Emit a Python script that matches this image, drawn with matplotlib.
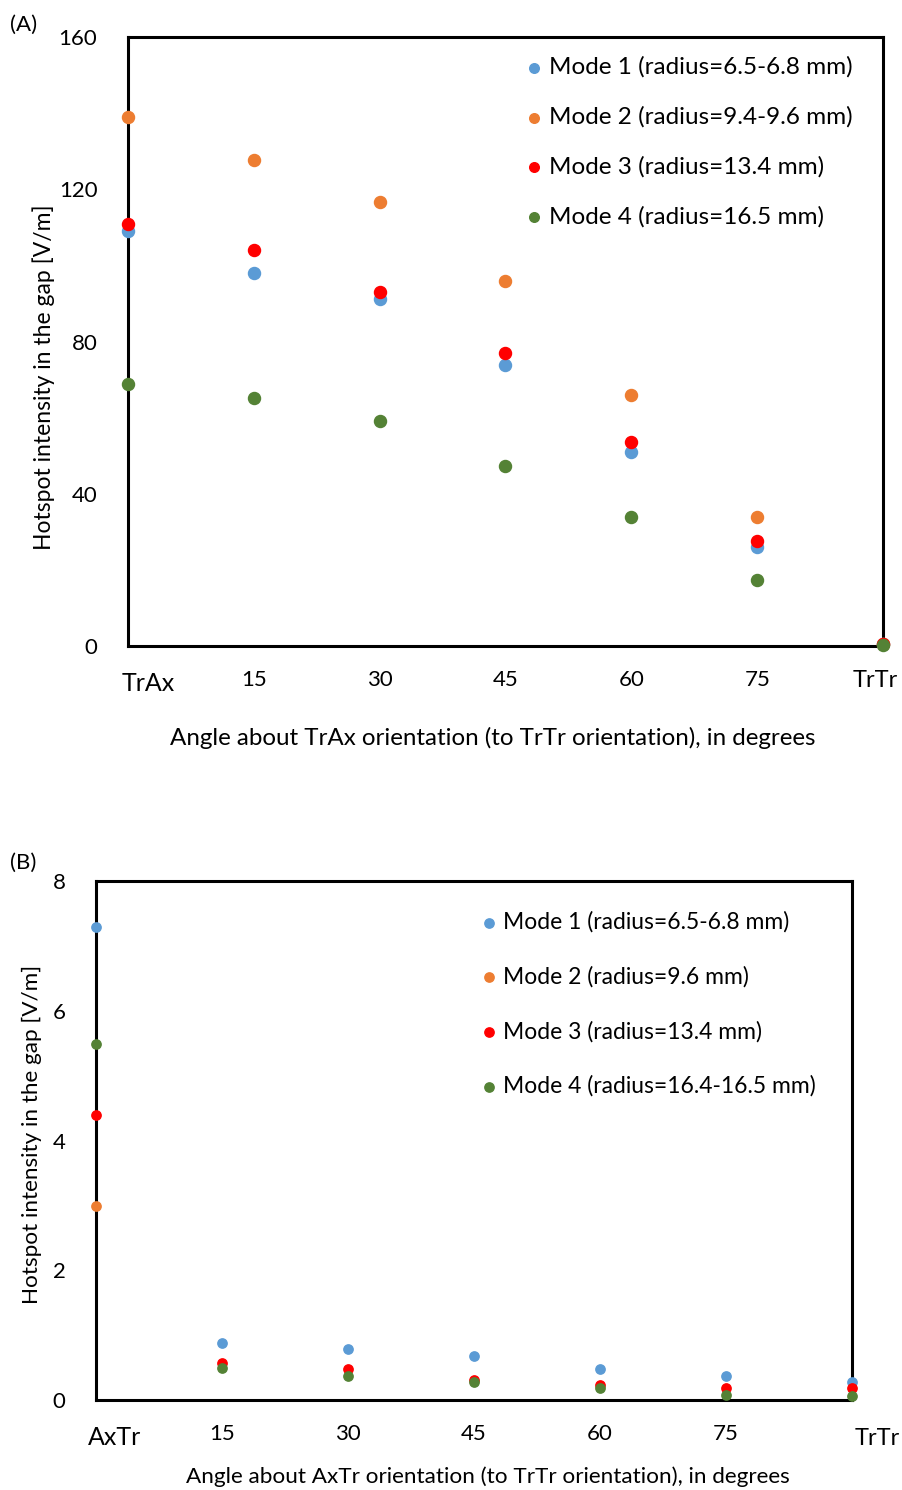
import matplotlib.pyplot as plt
import matplotlib.transforms as mtransforms

plt.rcParams['font.family'] = ['Lato', 'DejaVu Sans']

# ---- panel A data
angles_a = [0, 15, 30, 45, 60, 75, 90]
mode1_a = [109, 98, 91.2, 73.8, 51, 26, 0.5]
mode2_a = [139, 127.7, 116.7, 95.9, 66, 33.9, 0.5]
mode3_a = [110.9, 104, 93, 77, 53.6, 27.6, 0.5]
mode4_a = [68.8, 65.2, 59.1, 47.3, 33.9, 17.3, 0.3]
labels_a = ['Mode 1 (radius=6.5-6.8 mm)', 'Mode 2 (radius=9.4-9.6 mm)',
            'Mode 3 (radius=13.4 mm)', 'Mode 4 (radius=16.5 mm)']
xticks_a = ['TrAx', '15', '30', '45', '60', '75', 'TrTr']

# ---- panel B data
angles_b = [0, 15, 30, 45, 60, 75, 90]
mode1_b = [7.29, 0.88, 0.79, 0.68, 0.48, 0.37, 0.28]
angles_b2 = [0]
mode2_b = [2.99]
mode3_b = [4.39, 0.57, 0.48, 0.31, 0.23, 0.18, 0.18]
mode4_b = [5.49, 0.49, 0.37, 0.28, 0.18, 0.08, 0.06]
labels_b = ['Mode 1 (radius=6.5-6.8 mm)', 'Mode 2 (radius=9.6 mm)',
            'Mode 3 (radius=13.4 mm)', 'Mode 4 (radius=16.4-16.5 mm)']
xticks_b = ['AxTr', '15', '30', '45', '60', '75', 'TrTr']

colors = ['#5b9bd5', '#ed7d31', '#ff0000', '#548235']

fig = plt.figure(figsize=(9.03, 14.90), dpi=100)


def style_axes(ax, ylim, yticks, xticklabels, xlabel, first_dx, last_dx, last_dy,
               xlab_pos, ylab_pos, xlab_size, ylab_size):
    ax.set_xlim(0, 90)
    ax.set_ylim(*ylim)
    ax.set_yticks(yticks)
    ax.set_xticks([0, 15, 30, 45, 60, 75, 90])
    ax.set_xticklabels(xticklabels)
    for s in ax.spines.values():
        s.set_linewidth(2.2)
        s.set_color('black')
    ax.tick_params(length=0, labelsize=16)
    ax.tick_params(axis='x', pad=17)
    ax.tick_params(axis='y', pad=22)
    labs = ax.get_xticklabels()
    labs[0].set_fontsize(18)
    labs[0].set_transform(labs[0].get_transform() +
                          mtransforms.ScaledTranslation(first_dx / 100, -2 / 100, fig.dpi_scale_trans))
    labs[-1].set_fontsize(17)
    labs[-1].set_transform(labs[-1].get_transform() +
                           mtransforms.ScaledTranslation(last_dx / 100, last_dy / 100, fig.dpi_scale_trans))
    ax.set_xlabel(xlabel, fontsize=xlab_size)
    ax.set_ylabel('Hotspot intensity in the gap [V/m]', fontsize=ylab_size)
    ax.xaxis.set_label_coords(*xlab_pos)
    ax.yaxis.set_label_coords(*ylab_pos)


# panel A
ax1 = fig.add_axes([0.1417, 0.5664, 0.8362, 0.4088])
ax1.scatter(angles_a, mode1_a, s=75, color=colors[0], label=labels_a[0], clip_on=False, zorder=3)
ax1.scatter(angles_a, mode2_a, s=75, color=colors[1], label=labels_a[1], clip_on=False, zorder=3)
ax1.scatter(angles_a, mode3_a, s=75, color=colors[2], label=labels_a[2], clip_on=False, zorder=3)
ax1.scatter(angles_a, mode4_a, s=75, color=colors[3], label=labels_a[3], clip_on=False, zorder=3)
style_axes(ax1, (0, 160), [0, 40, 80, 120, 160], xticks_a,
           'Angle about TrAx orientation (to TrTr orientation), in degrees', 20, -8, 0,
           (0.483, -0.133), (-0.097, 0.442), 17.4, 16.5)
ax1.legend(loc='upper left', bbox_to_anchor=(0.522, 0.968), frameon=False, fontsize=17.5,
           markerscale=0.8, handlelength=1.0, handletextpad=0.1, labelspacing=1.17,
           borderaxespad=0, borderpad=0)
fig.text(0.011, 0.983, '(A)', fontsize=16, va='center')

# panel B
ax2 = fig.add_axes([0.1063, 0.0604, 0.8372, 0.3483])
ax2.scatter(angles_b, mode1_b, s=45, color=colors[0], label=labels_b[0], clip_on=False, zorder=3)
ax2.scatter(angles_b2, mode2_b, s=45, color=colors[1], label=labels_b[1], clip_on=False, zorder=3)
ax2.scatter(angles_b, mode3_b, s=45, color=colors[2], label=labels_b[2], clip_on=False, zorder=3)
ax2.scatter(angles_b, mode4_b, s=45, color=colors[3], label=labels_b[3], clip_on=False, zorder=3)
style_axes(ax2, (0, 8), [0, 2, 4, 6, 8], xticks_b,
           'Angle about AxTr orientation (to TrTr orientation), in degrees', 19, 25, -4,
           (0.519, -0.127), (-0.071, 0.511), 16.2, 16.2)
ax2.legend(loc='upper left', bbox_to_anchor=(0.505, 0.942), frameon=False, fontsize=16.5,
           markerscale=1.0, handlelength=1.0, handletextpad=0.1, labelspacing=1.45,
           borderaxespad=0, borderpad=0)
fig.text(0.011, 0.421, '(B)', fontsize=16, va='center')

fig.savefig('out.png', dpi=100)
